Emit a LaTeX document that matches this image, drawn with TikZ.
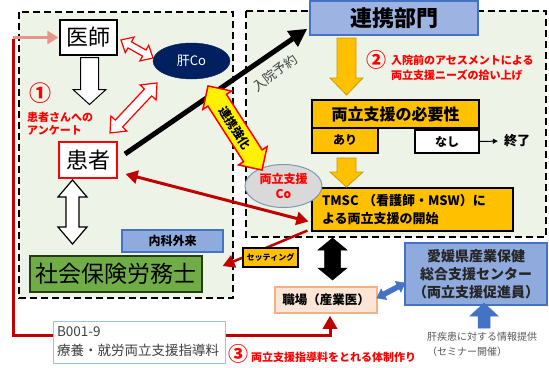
\documentclass[tikz,border=0pt]{standalone}
\usepackage{fontspec}
\setmainfont{Noto Sans CJK JP}
\usetikzlibrary{shapes.geometric,arrows.meta,calc}
\definecolor{panelgreen}{HTML}{EEF3E8}
\definecolor{darkred}{HTML}{C00000}
\definecolor{salmon}{HTML}{E6958C}
\definecolor{orangeF}{HTML}{FFC000}
\definecolor{navy}{HTML}{002060}
\definecolor{blueF}{HTML}{9DB3E2}
\definecolor{blueD}{HTML}{4472C4}
\definecolor{naikaF}{HTML}{8FAADC}
\definecolor{greenF}{HTML}{70AD47}
\definecolor{greenD}{HTML}{263D14}
\definecolor{shokubaF}{HTML}{FBE5D6}
\definecolor{shokubaD}{HTML}{F4B183}
\definecolor{b001D}{HTML}{9DC3E6}
\definecolor{grayF}{HTML}{D9D9D9}
\definecolor{ellD}{HTML}{8497B0}
\definecolor{grayT}{HTML}{404040}
\definecolor{grayI}{HTML}{595959}
\newcommand\fsz[2]{\fontsize{#1}{#2}\selectfont}
\tikzset{
  basebox/.style={draw, line width=1.2pt, inner sep=0pt, align=center},
  dashbox/.style={draw, line width=2.2pt, dash pattern=on 7pt off 4pt, fill=panelgreen},
  redline/.style={draw=darkred, line width=3pt},
  pics/dblarr/.style n args={4}{code={
    \path[pic actions] ({-#1/2},0) -- ({-#1/2+#4},{#3}) -- ({-#1/2+#4},{#2}) -- ({#1/2-#4},{#2}) -- ({#1/2-#4},{#3}) -- ({#1/2},0) -- ({#1/2-#4},{-#3}) -- ({#1/2-#4},{-#2}) -- ({-#1/2+#4},{-#2}) -- ({-#1/2+#4},{-#3}) -- cycle;
  }},
  pics/sglarr/.style n args={4}{code={
    \path[pic actions] ({-#1/2},{#2}) -- ({#1/2-#4},{#2}) -- ({#1/2-#4},{#3}) -- ({#1/2},0) -- ({#1/2-#4},{-#3}) -- ({#1/2-#4},{-#2}) -- ({-#1/2},{-#2}) -- cycle;
  }},
}
\begin{document}
\begin{tikzpicture}[x=1pt,y=-1pt]
\useasboundingbox (0,0) rectangle (549,367);
\fill[white] (0,0) rectangle (549,367);

% panels
\draw[dashbox] (19,12) rectangle (233,298);
\draw[dashbox] (246,11) rectangle (546,237);

% nodes
\node[basebox, fill=white, minimum width=57pt, minimum height=35pt, font=\fsz{22}{26}] (ishi) at (88.5,37.5) {医師};
\node[basebox, draw=red, fill=white, minimum width=58pt, minimum height=36pt, font=\fsz{22}{26}] (kanja) at (88,160) {患者};
\node[basebox, draw=b001D, line width=1pt, fill=white, minimum width=172pt, minimum height=42pt, text width=164pt, align=left, font=\fsz{13.5}{19}, text=grayT] (b001) at (139,342) {B001-9\\療養・就労両立支援指導料};
\node[basebox, draw=shokubaD, fill=shokubaF, line width=1.5pt, minimum width=102pt, minimum height=26pt, font=\fsz{12.5}{14}\bfseries] (shokuba) at (326,300) {職場（産業医）};
\node[basebox, fill=orangeF, minimum width=201pt, minimum height=43pt, text width=181pt, align=left, font=\fsz{13}{18}\bfseries] (tmsc) at (412.5,209.5) {TMSC （看護師・MSW）に\\よる両立支援の開始};
\node[basebox, draw=greenD, fill=greenF, minimum width=172pt, minimum height=36pt, font=\fsz{23}{26}] (sharo) at (116,274) {社会保険労務士};

% connectors (lines)
\coordinate (nyuinS) at (125,154);
\coordinate (loopTL) at (13,37.5);
\coordinate (loopBL) at (13,335);
\coordinate (loopBR) at (330,335);
\draw[redline] (b001.west |- loopBL) -- (loopBL) -- ([yshift=-1.5pt]loopTL);
\draw[draw=salmon, line width=3pt, -{Triangle[length=11pt,width=13pt]}, shorten >=1pt] (loopTL) -- (ishi.west);
\draw[redline, -{Triangle[length=13pt,width=14pt]}, shorten >=2pt] (b001.east |- loopBR) -- (loopBR) -- ($(shokuba.south)+(4,0)$);
\draw[redline, {Triangle[length=12pt,width=13pt]}-{Triangle[length=12pt,width=13pt]}] ($(kanja.east)+(8,14)$) -- ($(tmsc.west)+(-3,12)$);
\draw[redline, line width=2.5pt, -{Triangle[length=12pt,width=13pt]}] ($(tmsc.south west)+(-4,-1)$) -- ($(sharo.east)+(20,-8)$);

% remaining nodes
\node[basebox, draw=blueD, fill=blueF, line width=1.5pt, minimum width=168pt, minimum height=34pt, font=\fsz{22}{26}\bfseries] (renkei) at (394,18) {連携部門};
\draw[line width=5pt, -{Triangle[length=18pt,width=18pt]}] (nyuinS) -- ($(renkei.south west)+(-2,-7)$);
\node[ellipse, fill=navy, draw=navy, minimum width=77pt, minimum height=36pt, inner sep=0pt, text=white, font=\fsz{13}{15}] (kanco) at (191.5,61) {肝Co};
\node[basebox, fill=orangeF, minimum width=167pt, minimum height=28pt, font=\fsz{16}{18}\bfseries] (hitsuyo) at (395.5,114) {両立支援の必要性};
\node[basebox, fill=orangeF, minimum width=66pt, minimum height=25pt, font=\fsz{12}{14}\bfseries] (ari) at (345,140.5) {あり};
\node[basebox, fill=white, minimum width=64pt, minimum height=23pt, font=\fsz{12}{14}\bfseries] (nashi) at (447,141.5) {なし};
\node[font=\fsz{13}{15}\bfseries, inner sep=1pt] (shuryo) at (517,141) {終了};
\draw[line width=1pt, -{Triangle[length=5pt,width=5pt]}, shorten >=5pt] (nashi.east) -- (shuryo.west);
\node[ellipse, fill=grayF, draw=ellD, line width=1pt, minimum width=77pt, minimum height=43pt, inner sep=0pt, align=center, text=red, font=\fsz{12}{15}\bfseries] (ryoco) at (283.5,186) {両立支援\\Co};
\node[basebox, draw=blueD, fill=naikaF, minimum width=101pt, minimum height=22pt, font=\fsz{12}{14}\bfseries] (naika) at (172.5,241) {内科外来};
\node[basebox, fill=orangeF, minimum width=55pt, minimum height=19pt, font=\fsz{8}{10}\bfseries] (setting) at (270.5,257.5) {セッティング};
\node[basebox, draw=blueD, fill=naikaF, line width=1.5pt, minimum width=142pt, minimum height=62pt, font=\fsz{14}{18}\bfseries, text=black!85] (sangyo) at (476,274) {愛媛県産業保健\\総合支援センター\\（両立支援促進員）};

% block arrows
\pic[draw=black, fill=white, line width=1pt, rotate=-90] (a1) at (89.5,81) {sglarr={47}{9}{16.5}{15}};
\pic[draw=orangeF!80!black, fill=orangeF, line width=0.8pt, rotate=-90] (a2) at (346.5,66.5) {sglarr={57}{9.5}{16.5}{17}};
\pic[draw=orangeF!80!black, fill=orangeF, line width=0.8pt, rotate=-90] (a3) at (346.5,172.5) {sglarr={29}{9.5}{16.5}{15}};
\pic[draw=black, fill=white, line width=1.2pt, rotate=90] (a4) at (72.5,212) {dblarr={64}{6.5}{14.5}{17}};
\pic[draw=red, fill=white, line width=1.2pt, rotate=-29.4] (a5) at (137,49) {dblarr={36.7}{3.5}{9}{10}};
\pic[draw=red, fill=white, line width=1.2pt, rotate=46.8] (a6) at (133.5,108) {dblarr={68.6}{5}{11}{13}};
\pic[draw=red, fill=yellow, line width=1.5pt, rotate=-57.3] (a7) at (235,128) {dblarr={100}{11}{17}{17}};
\pic[draw=black, fill=black, line width=0.5pt, rotate=90] (a8) at (332.5,259) {dblarr={42}{8}{14.5}{12}};
\pic[draw=blueD, fill=blueD, line width=0.5pt, rotate=28] (a9) at (391,290.5) {dblarr={32}{2.5}{6}{8}};
\pic[draw=blueD, fill=blueD, line width=0.5pt, rotate=90] (a10) at (484,315.5) {sglarr={25}{6}{14}{13}};

% texts
\node[font=\fsz{12}{14}\bfseries, rotate=-57.3] (kyoka) at (235,128) {連携強化};
\node[text=grayT, font=\fsz{13}{15}, rotate=37] (nyuin) at (275,73) {入院予約};
\node[text=red, font=\fsz{22}{24}\bfseries] (n1) at (40,93) {①};
\node[text=red, font=\fsz{11}{13}\bfseries, align=left, anchor=west, inner sep=0pt] (q1) at (27,123.5) {患者さんへの\\アンケート};
\node[text=red, font=\fsz{20}{22}\bfseries] (n2) at (376,60) {②};
\node[text=red, font=\fsz{11}{15}\bfseries, align=left, anchor=west, inner sep=0pt] (t2) at (391,67.5) {入院前のアセスメントによる\\両立支援ニーズの拾い上げ};
\node[text=red, font=\fsz{20}{22}\bfseries] (n3) at (238,354) {③};
\node[text=red, font=\fsz{11}{13}\bfseries, anchor=west, inner sep=0pt] (t3) at (251,357) {両立支援指導料をとれる体制作り};
\node[text=grayI, font=\fsz{10}{15}, align=left, anchor=west, inner sep=0pt] (info) at (427,344.5) {肝疾患に対する情報提供\\（セミナー開催）};
\end{tikzpicture}
\end{document}
